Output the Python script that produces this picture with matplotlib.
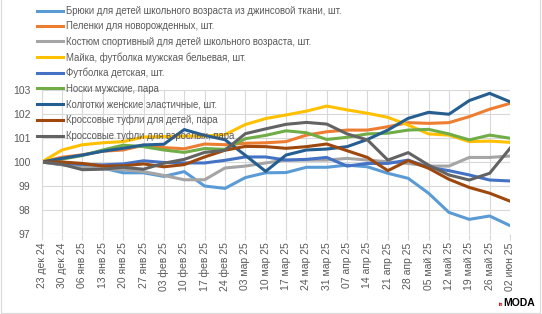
import matplotlib
matplotlib.use("Agg")
import matplotlib.pyplot as plt
from matplotlib.patches import Rectangle

dates = ["23 дек 24", "30 дек 24", "06 янв 25", "13 янв 25", "20 янв 25", "27 янв 25",
         "03 фев 25", "10 фев 25", "17 фев 25", "24 фев 25", "03 мар 25", "10 мар 25",
         "17 мар 25", "24 мар 25", "31 мар 25", "07 апр 25", "14 апр 25", "21 апр 25",
         "28 апр 25", "05 май 25", "12 май 25", "19 май 25", "26 май 25", "02 июн 25"]

names = ["Брюки для детей школьного возраста из джинсовой ткани, шт.",
         "Пеленки для новорожденных, шт.",
         "Костюм спортивный для детей школьного возраста, шт.",
         "Майка, футболка мужская бельевая, шт.",
         "Футболка детская, шт.",
         "Носки мужские, пара",
         "Колготки женские эластичные, шт.",
         "Кроссовые туфли для детей, пара",
         "Кроссовые туфли для взрослых, пара"]

colors = ["#5B9BD5", "#ED7D31", "#A5A5A5", "#FFC000", "#4472C4",
          "#70AD47", "#255E91", "#9E480E", "#636363"]

bryuki = [100, 99.9, 99.8, 99.75, 99.55, 99.55, 99.4, 99.6, 99.0, 98.9, 99.35, 99.55,
          99.56, 99.78, 99.78, 99.87, 99.8, 99.53, 99.32, 98.7, 97.9, 97.61, 97.75, 97.35]
pelenki = [100, 100.2, 100.3, 100.45, 100.5, 100.7, 100.6, 100.55, 100.75, 100.72, 100.78, 100.8,
           100.85, 101.12, 101.26, 101.33, 101.33, 101.47, 101.64, 101.61, 101.64, 101.89, 102.2, 102.44]
kostyum = [100, 99.88, 99.78, 99.72, 99.68, 99.6, 99.44, 99.26, 99.26, 99.75, 99.83, 99.96,
           100.08, 100.08, 100.08, 100.15, 100.08, 100.01, 99.94, 99.83, 99.83, 100.19, 100.19, 100.25]
mayka = [100, 100.5, 100.72, 100.8, 100.85, 101.04, 101.06, 101.08, 101.08, 101.14, 101.56, 101.81,
         101.96, 102.12, 102.33, 102.17, 102.03, 101.86, 101.54, 101.17, 101.12, 100.85, 100.87, 100.82]
futbolka = [100, 99.95, 99.9, 99.88, 99.92, 100.05, 99.98, 99.96, 99.96, 100.07, 100.21, 100.21,
            100.08, 100.11, 100.19, 99.83, 99.94, 99.94, 100.08, 99.78, 99.64, 99.46, 99.25, 99.21]
noski = [100, 100.12, 100.27, 100.5, 100.7, 100.64, 100.5, 100.4, 100.56, 100.53, 100.97, 101.11,
         101.3, 101.22, 100.94, 101.03, 101.17, 101.2, 101.33, 101.36, 101.17, 100.92, 101.12, 100.99]
kolgotki = [100, 100.15, 100.29, 100.45, 100.57, 100.71, 100.74, 101.35, 101.11, 100.93, 100.28, 99.61,
            100.29, 100.5, 100.54, 100.64, 100.94, 101.33, 101.82, 102.07, 101.99, 102.56, 102.86, 102.51]
krossovki_deti = [100, 100.0, 99.94, 99.83, 99.84, 99.92, 99.8, 99.89, 100.21, 100.49, 100.65, 100.64,
                  100.57, 100.64, 100.75, 100.47, 100.19, 99.64, 100.06, 99.74, 99.28, 98.94, 98.7, 98.37]
krossovki_vzr = [100, 99.9, 99.68, 99.7, 99.78, 99.7, 99.95, 100.11, 100.4, 100.49, 101.18, 101.38,
                 101.57, 101.65, 101.58, 101.17, 100.92, 100.08, 100.39, 99.87, 99.46, 99.25, 99.53, 100.57]

series = [bryuki, pelenki, kostyum, mayka, futbolka, noski, kolgotki, krossovki_deti, krossovki_vzr]

plt.rcParams['font.family'] = ['Liberation Sans', 'DejaVu Sans']
txt = "#595959"

fig = plt.figure(figsize=(5.42, 3.14), dpi=100)
ax = fig.add_axes([41.7 / 542, 80 / 314, 468.3 / 542, 144 / 314])

x = list(range(len(dates)))
lines = []
for vals, c, n in zip(series, colors, names):
    ln, = ax.plot(x, vals, color=c, lw=2.2, label=n, solid_joinstyle="round")
    lines.append(ln)

ax.set_xlim(0, len(dates) - 1)
ax.set_ylim(97, 103)
ax.set_yticks(range(97, 104))
ax.set_xticks(x)
ax.set_xticklabels(dates, rotation=90, fontsize=7.5, color=txt)
ax.tick_params(axis="y", labelsize=7.5, colors=txt, length=0, pad=8)
ax.tick_params(axis="x", colors="#d9d9d9", labelcolor=txt, length=4, pad=2)
ax.grid(True, color="#d9d9d9", lw=0.8)
ax.set_axisbelow(True)
for s in ["top", "right", "bottom"]:
    ax.spines[s].set_visible(False)
ax.spines["left"].set_color("#d9d9d9")
ax.spines["left"].set_linewidth(0.8)

fig.legend(handles=lines, loc="upper left", bbox_to_anchor=(37 / 542, 1 - 6 / 314),
           frameon=False, fontsize=6.9, handlelength=2.75, handletextpad=0.3,
           labelspacing=0.56, borderpad=0, borderaxespad=0, labelcolor=txt)

fig.patches.append(Rectangle((1 / 542, 1 / 314), 539 / 542, 320 / 314, transform=fig.transFigure,
                             fill=False, edgecolor="#d9d9d9", lw=0.8))

fig.text(503 / 542, 8 / 314, "in", fontsize=3.5, color="#c00000", ha="right", va="baseline",
         fontweight="bold")
fig.text(503 / 542, 8 / 314, "MODA", fontsize=7.5, color="black", ha="left", va="baseline",
         fontweight="bold")

fig.savefig("out.png", dpi=100)
